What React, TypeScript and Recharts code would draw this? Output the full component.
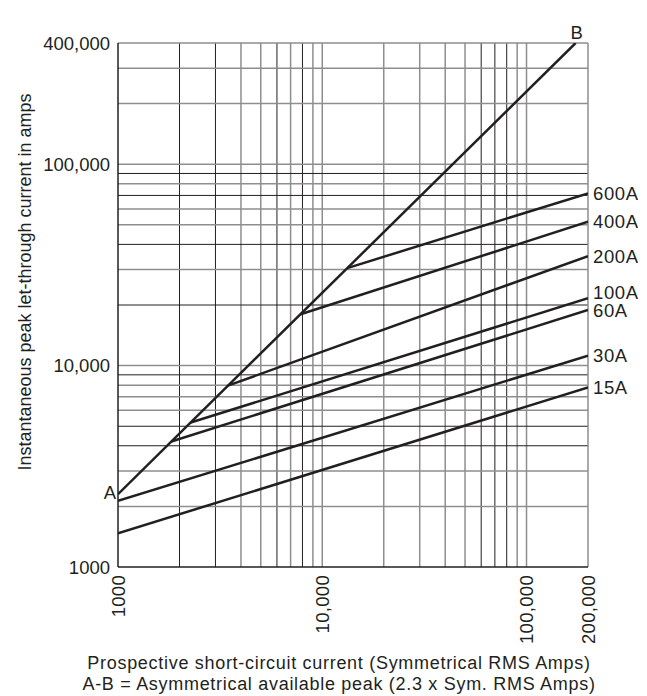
import { LineChart, Line, XAxis, YAxis, ReferenceLine } from 'recharts';

// x: prospective sym. RMS amps, y: peak let-through amps (both log)
const xTicks = [1000, 10000, 100000, 200000];
const yTicks = [1000, 10000, 100000, 400000];

const xGrid = [2000, 3000, 4000, 5000, 6000, 7000, 8000, 9000, 10000, 20000, 30000, 40000, 50000, 60000, 70000, 80000, 90000, 100000];
const xGridDark = [2000, 3000, 6000, 8000, 60000, 70000, 80000];
const yGrid = [2000, 3000, 4000, 5000, 6000, 7000, 8000, 9000, 10000, 20000, 30000, 40000, 50000, 60000, 70000, 80000, 90000, 100000, 200000, 300000];
const yGridDark = [4000, 5000, 9000, 20000, 40000, 70000, 90000];

const abLine = [
  { x: 1000, y: 2300 },
  { x: 174000, y: 400000 },
];

const fuseNames = ['600A', '400A', '200A', '100A', '60A', '30A', '15A'];
const fuseStartX = [13260, 7830, 3450, 2270, 1824, 1000, 1000];
const fuseStartY = [30500, 18000, 7950, 5220, 4200, 2130, 1470];
const fuseEndX = [200000, 200000, 200000, 200000, 200000, 200000, 200000];
const fuseEndY = [71700, 51800, 35000, 21600, 18900, 11200, 7800];

const ink = '#231f20';
const gray = '#8e8e8e';
const font = '"Liberation Sans", Arial, sans-serif';
const labelDy: Record<string, number> = { '100A': -6 };

const fmt = (v: number) => (v === 1000 ? '1000' : v.toLocaleString('en-US'));

const XTick = ({ x, y, payload }: any) => (
  <text
    x={x}
    y={y}
    transform={`rotate(-90, ${x}, ${y})`}
    textAnchor="end"
    dy="0.36em"
    fontSize={18.5}
    letterSpacing={0.3}
    fontFamily={font}
    fill={ink}
  >
    {fmt(payload.value)}
  </text>
);

const YTick = ({ x, y, payload }: any) => (
  <text x={x} y={y} textAnchor="end" dy="0.36em" fontSize={18.5} fontFamily={font} fill={ink}>
    {fmt(payload.value)}
  </text>
);

const endLabel = (name: string) => (props: any) => {
  if (props.index !== 1) return null;
  return (
    <text
      x={props.x + 5}
      y={props.y + (labelDy[name] || 0)}
      dy="0.36em"
      fontSize={18.5}
      letterSpacing={0.6}
      fontFamily={font}
      fill={ink}
    >
      {name}
    </text>
  );
};

const abLabel = (props: any) => {
  if (props.index === 0) {
    return (
      <text x={props.x - 2} y={props.y - 2} dy="0.36em" textAnchor="end" fontSize={18.5} fontFamily={font} fill={ink}>
        A
      </text>
    );
  }
  return (
    <text x={props.x + 1} y={props.y - 11} dy="0.36em" textAnchor="middle" fontSize={18.5} fontFamily={font} fill={ink}>
      B
    </text>
  );
};

const yLabel = ({ viewBox }: any) => {
  const cx = viewBox.x - 33;
  const cy = viewBox.y + viewBox.height / 2 - 23;
  return (
    <text
      x={cx}
      y={cy}
      transform={`rotate(-90, ${cx}, ${cy})`}
      textAnchor="middle"
      dy="0.36em"
      fontSize={18}
      fontFamily={font}
      fill={ink}
    >
      Instantaneous peak let-through current in amps
    </text>
  );
};

const xLabel = ({ viewBox }: any) => {
  const cx = viewBox.x + viewBox.width / 2 - 14;
  return (
    <text x={cx} y={viewBox.y + 102} textAnchor="middle" fontSize={18} letterSpacing={0.7} fontFamily={font} fill={ink}>
      <tspan x={cx}>Prospective short-circuit current (Symmetrical RMS Amps)</tspan>
      <tspan x={cx} dy={20.5}>A-B = Asymmetrical available peak (2.3 x Sym. RMS Amps)</tspan>
    </text>
  );
};

export default function App() {
  const fuses = fuseNames.map((name, i) => ({
    name,
    data: [
      { x: fuseStartX[i], y: fuseStartY[i] },
      { x: fuseEndX[i], y: fuseEndY[i] },
    ],
  }));

  return (
    <LineChart width={630} height={688} margin={{ top: 35, right: 50, bottom: 99, left: 50 }}>
      <XAxis
        type="number"
        dataKey="x"
        scale="log"
        domain={[1000, 200000]}
        ticks={xTicks}
        allowDataOverflow
        axisLine={false}
        tickLine={false}
        tickSize={6}
        tickMargin={2}
        height={30}
        tick={<XTick />}
        interval={0}
        label={{ content: xLabel }}
      />
      <YAxis
        type="number"
        dataKey="y"
        scale="log"
        domain={[1000, 400000]}
        ticks={yTicks}
        allowDataOverflow
        axisLine={false}
        tickLine={false}
        tickSize={6}
        tickMargin={2}
        width={60}
        tick={<YTick />}
        interval={0}
        label={{ content: yLabel }}
      />
      {xGrid.map(v => {
        const dark = xGridDark.includes(v);
        return <ReferenceLine key={'x' + v} x={v} stroke={dark ? ink : gray} strokeWidth={dark ? 1 : 1.5} />;
      })}
      {yGrid.map(v => {
        const dark = yGridDark.includes(v);
        return <ReferenceLine key={'y' + v} y={v} stroke={dark ? ink : gray} strokeWidth={dark ? 1 : 1.5} />;
      })}
      <ReferenceLine x={200000} stroke={gray} strokeWidth={1.5} />
      <ReferenceLine y={400000} stroke={gray} strokeWidth={1.5} />
      <ReferenceLine x={1000} stroke={ink} strokeWidth={1.5} />
      <ReferenceLine y={1000} stroke={ink} strokeWidth={1.5} />
      <Line
        data={abLine}
        dataKey="y"
        stroke={ink}
        strokeWidth={2.5}
        dot={false}
        isAnimationActive={false}
        label={abLabel}
      />
      {fuses.map(f => (
        <Line
          key={f.name}
          data={f.data}
          dataKey="y"
          stroke={ink}
          strokeWidth={2.5}
          dot={false}
          isAnimationActive={false}
          label={endLabel(f.name)}
        />
      ))}
    </LineChart>
  );
}
